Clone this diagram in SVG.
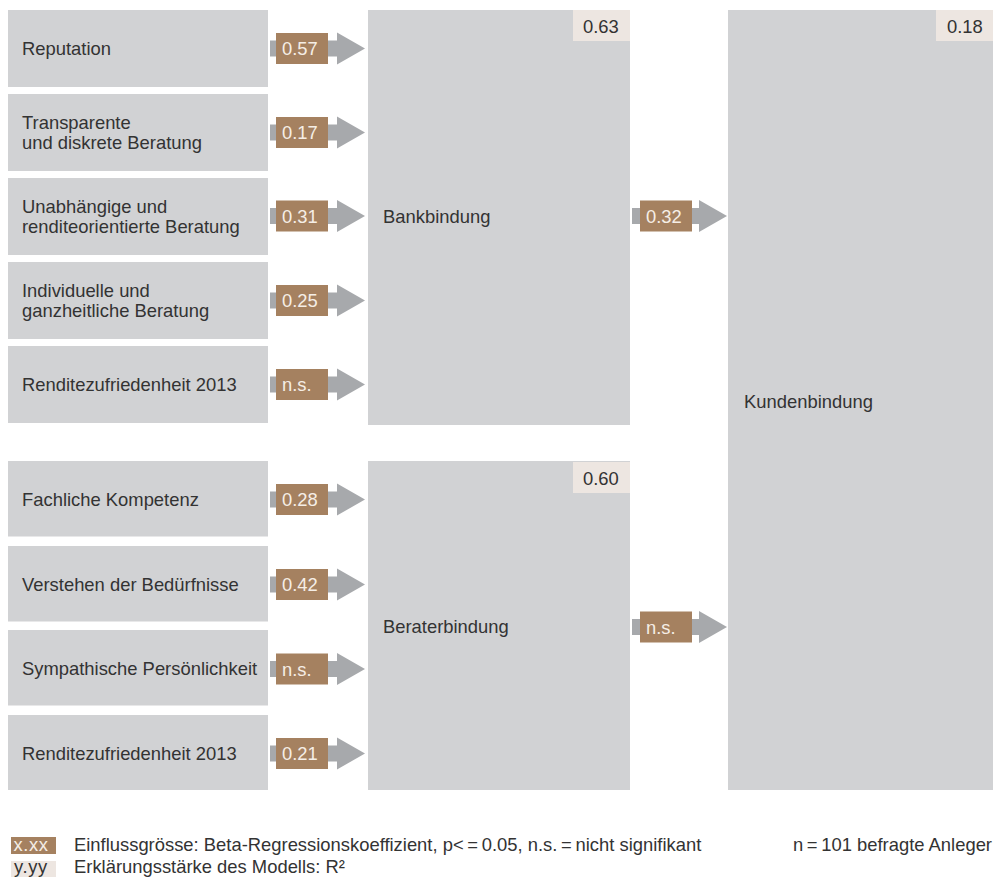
<svg xmlns="http://www.w3.org/2000/svg" xmlns:xlink="http://www.w3.org/1999/xlink" width="997" height="884" viewBox="0 0 997 884">
<style>
.box{fill:#d1d2d4}
.r2{fill:#ede6e1}
.lbl{fill:#a58160}
.arr{fill:#a7a9ac}
text{font-family:"Liberation Sans",Arial,sans-serif;font-size:18.4px;fill:#333333}
.lt{fill:#f5eee6}
</style>
<defs>
<polygon id="arrowShape" class="arr" points="0,-8 67,-8 67,-16 95,0 67,16 67,8 0,8"/>
</defs>
<rect width="997" height="884" fill="#ffffff"/>

<g id="n-reputation"><rect class="box" x="8" y="10" width="260" height="77"/><text x="22" y="54.5">Reputation</text></g>
<g id="n-transparente"><rect class="box" x="8" y="94" width="260" height="77"/><text x="22" y="129">Transparente</text><text x="22" y="149">und diskrete Beratung</text></g>
<g id="n-unabhaengige"><rect class="box" x="8" y="178" width="260" height="77"/><text x="22" y="213">Unabhängige und</text><text x="22" y="233">renditeorientierte Beratung</text></g>
<g id="n-individuelle"><rect class="box" x="8" y="262" width="260" height="77"/><text x="22" y="297">Individuelle und</text><text x="22" y="317">ganzheitliche Beratung</text></g>
<g id="n-rendite1"><rect class="box" x="8" y="346" width="260" height="77"/><text x="22" y="390.5">Renditezufriedenheit 2013</text></g>

<g id="n-fachlich"><rect class="box" x="8" y="461" width="260" height="75.5"/><text x="22" y="505.5">Fachliche Kompetenz</text></g>
<g id="n-verstehen"><rect class="box" x="8" y="546" width="260" height="75.5"/><text x="22" y="590.5">Verstehen der Bedürfnisse</text></g>
<g id="n-sympathisch"><rect class="box" x="8" y="630" width="260" height="75.5"/><text x="22" y="675">Sympathische Persönlichkeit</text></g>
<g id="n-rendite2"><rect class="box" x="8" y="715" width="260" height="75"/><text x="22" y="759.5">Renditezufriedenheit 2013</text></g>

<g id="n-bankbindung"><rect class="box" x="368" y="10" width="262" height="415"/><rect class="r2" x="573" y="10" width="57" height="31"/><text x="583" y="32.5">0.63</text><text x="383" y="222.5">Bankbindung</text></g>
<g id="n-beraterbindung"><rect class="box" x="368" y="461" width="262" height="329"/><rect class="r2" x="573" y="462" width="57" height="31"/><text x="583" y="484.5">0.60</text><text x="383" y="632.5">Beraterbindung</text></g>
<g id="n-kundenbindung"><rect class="box" x="728" y="10" width="265" height="780"/><rect class="r2" x="936" y="10" width="57" height="31"/><text x="947" y="32.5">0.18</text><text x="744" y="408">Kundenbindung</text></g>

<g id="connectors">
<use xlink:href="#arrowShape" x="270" y="48.5"/>
<use xlink:href="#arrowShape" x="270" y="132.5"/>
<use xlink:href="#arrowShape" x="270" y="216"/>
<use xlink:href="#arrowShape" x="270" y="300.5"/>
<use xlink:href="#arrowShape" x="270" y="384.5"/>
<use xlink:href="#arrowShape" x="270" y="499.5"/>
<use xlink:href="#arrowShape" x="270" y="584.5"/>
<use xlink:href="#arrowShape" x="270" y="669"/>
<use xlink:href="#arrowShape" x="270" y="753.5"/>
<use xlink:href="#arrowShape" x="632" y="216"/>
<use xlink:href="#arrowShape" x="632" y="627"/>

<rect class="lbl" x="276" y="33" width="52" height="31"/><text class="lt" x="282" y="55">0.57</text>
<rect class="lbl" x="276" y="117" width="52" height="31"/><text class="lt" x="282" y="139">0.17</text>
<rect class="lbl" x="276" y="200.5" width="52" height="31"/><text class="lt" x="282" y="222.5">0.31</text>
<rect class="lbl" x="276" y="285" width="52" height="31"/><text class="lt" x="282" y="307">0.25</text>
<rect class="lbl" x="276" y="369" width="52" height="31"/><text class="lt" x="282" y="391">n.s.</text>
<rect class="lbl" x="276" y="484" width="52" height="31"/><text class="lt" x="282" y="506">0.28</text>
<rect class="lbl" x="276" y="569" width="52" height="31"/><text class="lt" x="282" y="591">0.42</text>
<rect class="lbl" x="276" y="653.5" width="52" height="31"/><text class="lt" x="282" y="675.5">n.s.</text>
<rect class="lbl" x="276" y="738" width="52" height="31"/><text class="lt" x="282" y="760">0.21</text>
<rect class="lbl" x="640" y="200.5" width="52" height="31"/><text class="lt" x="646" y="222.5">0.32</text>
<rect class="lbl" x="640" y="611.5" width="52" height="31"/><text class="lt" x="646" y="633.5">n.s.</text>
</g>

<g id="legend">
<rect class="lbl" x="11" y="837" width="45" height="17"/><text class="lt" x="13.5" y="851" letter-spacing="0.6">x.xx</text>
<text x="74" y="851">Einflussgrösse: Beta-Regressionskoeffizient, p&lt;&#8201;=&#8201;0.05, n.s.&#8201;=&#8201;nicht signifikant</text>
<text x="992" y="851" text-anchor="end">n&#8201;=&#8201;101 befragte Anleger</text>
<rect class="r2" x="11" y="861" width="45" height="16"/><text x="14" y="873" letter-spacing="0.6">y.yy</text>
<text x="74" y="873">Erklärungsstärke des Modells: R²</text>
</g>
</svg>
